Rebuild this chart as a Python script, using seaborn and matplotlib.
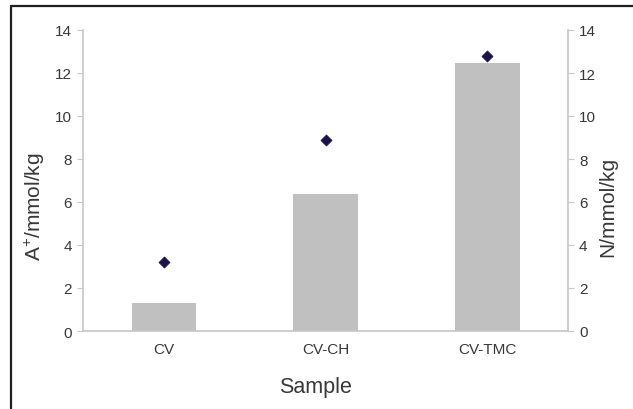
import matplotlib
matplotlib.use("Agg")
import matplotlib.pyplot as plt
from matplotlib.lines import Line2D
import seaborn as sns
import pandas as pd

# Data
samples = ["CV", "CV-CH", "CV-TMC"]
a_plus = [1.30, 6.39, 12.45]      # A+ (mmol/kg), bars, left axis
n_values = [3.22, 8.87, 12.78]    # N (mmol/kg), diamonds, right axis
y_ticks = [0, 2, 4, 6, 8, 10, 12, 14]

df = pd.DataFrame({"Sample": samples, "A": a_plus, "N": n_values})

sns.set_theme(style="white")
plt.rcParams["font.family"] = ["Liberation Sans", "DejaVu Sans"]
plt.rcParams["mathtext.fontset"] = "custom"
plt.rcParams["mathtext.rm"] = "Liberation Sans"

W, H = 633, 410
fig = plt.figure(figsize=(W / 100, H / 100), dpi=100)
fig.patch.set_facecolor("white")

left, right, bottom, top = 83, 568, 332, 31
ax = fig.add_axes([left / W, 1 - bottom / H, (right - left) / W, (bottom - top) / H])
ax.set_facecolor("none")

text_col = "#383838"
axis_col = "#c8c8c8"

sns.barplot(data=df, x="Sample", y="A", color="#c0c0c0", saturation=1,
            width=0.4, ax=ax, edgecolor="none")
ax.set_xlim(-0.5, 2.5)
ax.set_ylim(0, 14)
ax.set_yticks(y_ticks)
ax.set_xlabel("")
ax.set_ylabel("")

ax2 = ax.twinx()
sns.scatterplot(data=df, x="Sample", y="N", marker="D", s=32, color="#1c1050",
                edgecolor="#1c1050", linewidth=0.5, ax=ax2, zorder=5)
ax2.set_ylim(0, 14)
ax2.set_yticks(y_ticks)
ax2.set_ylabel("")
ax2.set_xlabel("")

for a in (ax, ax2):
    for s in a.spines.values():
        s.set_visible(False)
    a.tick_params(axis="y", length=4, width=0.8, color=axis_col, pad=4,
                  labelsize=11, labelcolor=text_col, direction="out")
    a.tick_params(axis="x", length=0, pad=8, labelsize=11, labelcolor=text_col)

ax.spines["left"].set_visible(True)
ax.spines["left"].set_color(axis_col)
ax.spines["bottom"].set_visible(True)
ax.spines["bottom"].set_color(axis_col)
ax2.spines["right"].set_visible(True)
ax2.spines["right"].set_color(axis_col)
ax.tick_params(axis="y", left=True, right=False)
ax2.tick_params(axis="y", left=False, right=True, labelleft=False, labelright=True)

# Axis titles
fig.text(35 / W, 1 - 207 / H, r"A$^{\mathregular{+}}$/mmol/kg", rotation=90,
         ha="center", va="center", fontsize=15, color=text_col)
fig.text(608 / W, 1 - 207 / H, "N/mmol/kg", rotation=90,
         ha="center", va="center", fontsize=15, color=text_col)
fig.text(315 / W, 1 - 388 / H, "Sample", ha="center", va="center",
         fontsize=15.5, color=text_col)

# Outer frame
fx, fy = 11 / W, 1 - 7 / H
fig.add_artist(Line2D([fx, fx], [0, fy], color="#202020", linewidth=1.6,
                      transform=fig.transFigure))
fig.add_artist(Line2D([fx, 1], [fy, fy], color="#202020", linewidth=1.6,
                      transform=fig.transFigure))

fig.savefig("out.png", dpi=100)
